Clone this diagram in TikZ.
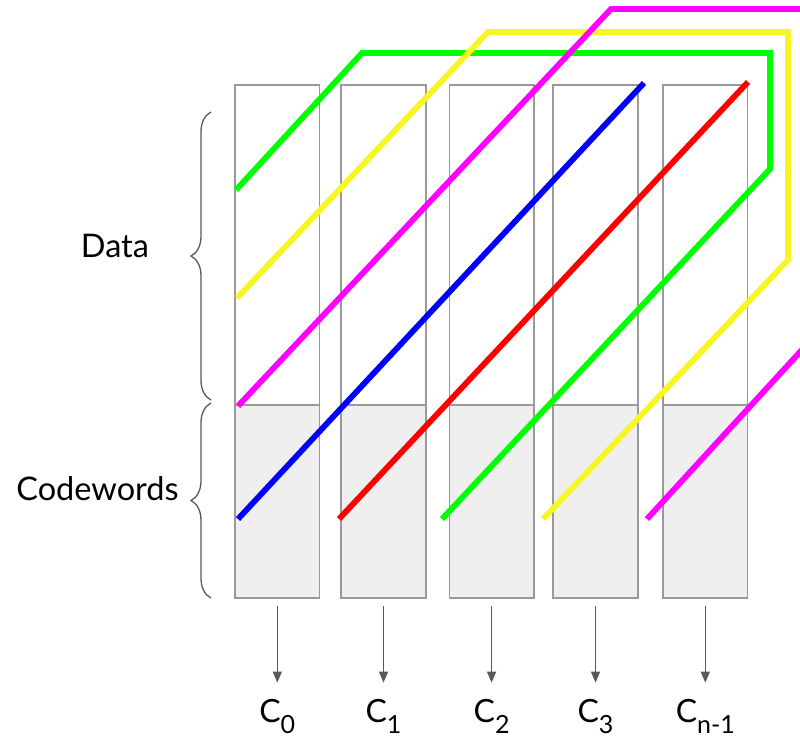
\documentclass[tikz,border=0pt]{standalone}
\usepackage{fontspec}
\setmainfont{Lato}
\usetikzlibrary{decorations.pathreplacing,arrows.meta}

\definecolor{boxline}{HTML}{999999}
\definecolor{boxfill}{HTML}{EFEFEF}
\definecolor{ink}{HTML}{595959}
\definecolor{pgreen}{HTML}{00FF00}
\definecolor{pyellow}{HTML}{F8F524}
\definecolor{pmagenta}{HTML}{FF00FF}
\definecolor{pblue}{HTML}{0000FF}
\definecolor{pred}{HTML}{FF0000}

% lowered, smaller index after a column letter
\newcommand{\colidx}[1]{\raisebox{-11pt}{\fontsize{25}{25}\selectfont #1}}

\begin{document}
\begin{tikzpicture}[x=1pt,y=-1pt,
  databox/.style={draw=boxline,line width=1.6pt,fill=white,minimum width=84.5pt,
                  minimum height=320pt,inner sep=0pt,outer sep=0pt},
  codebox/.style={draw=boxline,line width=1.6pt,fill=boxfill,minimum width=84.5pt,
                  minimum height=193pt,inner sep=0pt,outer sep=0pt},
  stripe/.style={line width=5.8pt},
  outarrow/.style={draw=ink,line width=1.4pt,-{Triangle[length=11pt,width=9pt]},
                   shorten >=16pt},
  colname/.style={inner sep=0pt,anchor=base,font=\fontsize{32}{38}\selectfont},
  sidelabel/.style={inner sep=0pt,anchor=base,font=\fontsize{32.5}{38}\selectfont},
  groupbrace/.style={draw=ink,line width=1.3pt,
                     decorate,decoration={brace,amplitude=20pt}}]
\useasboundingbox (0,0) rectangle (800,737);

% columns: data part on top, codeword part below
\foreach \i/\x in {0/277.3,1/383.5,2/491.6,3/595.5,4/705.3}{
  \node[databox] (d\i) at (\x,245) {};
  \node[codebox] (b\i) at (\x,501.5) {};
}

% column outputs
\node[colname] (l0) at (277.3,722) {C\colidx{0}};
\node[colname] (l1) at (383.5,722) {C\colidx{1}};
\node[colname] (l2) at (491.6,722) {C\colidx{2}};
\node[colname] (l3) at (595.5,722) {C\colidx{3}};
\node[colname] (l4) at (705.3,722) {C\colidx{n-1}};
\foreach \i in {0,...,4}{
  \draw[outarrow] ([yshift=-8pt]b\i.south) -- (l\i.north -| b\i.south);
}

% diagonal stripes
\draw[stripe,pblue] (238,519) -- (644,83);
\draw[stripe,pred] (339,519) -- (748,82);
\draw[stripe,pgreen] (236,190) -- (362,53) -- (770,53) -- (770,169) -- (442,519);
\draw[stripe,pyellow] (237,298) -- (488,32) -- (788,32) -- (788,260) -- (543,519);
\begin{scope}
  \clip (0,0) rectangle (800,737);
  \draw[stripe,pmagenta] (238,406) -- (611,9) -- (810,9);
  \draw[stripe,pmagenta] (647,519) -- (810,341);
\end{scope}

% row groups
\coordinate (dtop) at (211,112);
\coordinate (dbot) at (211,400);
\coordinate (ctop) at (211,403);
\coordinate (cbot) at (211,598);
\draw[groupbrace] (dbot) -- (dtop);
\draw[groupbrace] (cbot) -- (ctop);
\node[sidelabel] (data) at (115,257) {Data};
\node[sidelabel] (code) at (97.5,500) {Codewords};
\end{tikzpicture}
\end{document}
